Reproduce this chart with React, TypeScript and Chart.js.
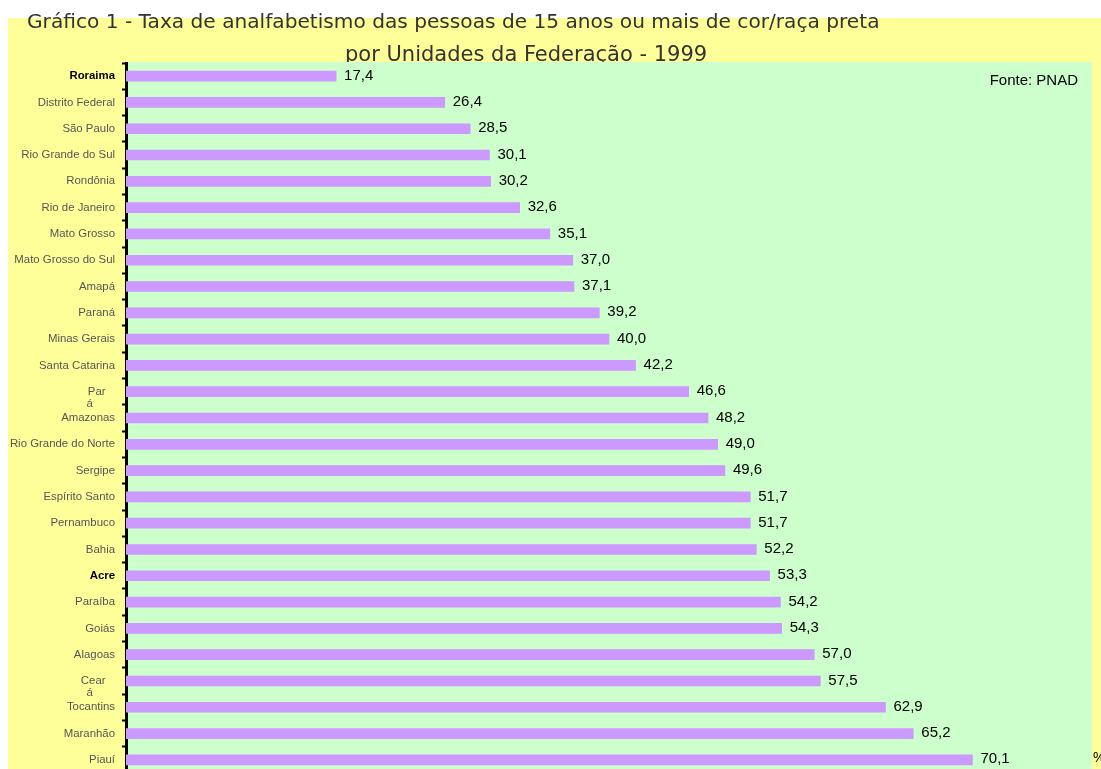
import React, { useEffect, useRef } from "react";
import { Chart, registerables } from "chart.js";

Chart.register(...registerables);

const TITLE_LINE_1 = "Gráfico 1 - Taxa de analfabetismo das pessoas de 15 anos ou mais de cor/raça preta";
const TITLE_LINE_2 = "por Unidades da Federação - 1999";
const SOURCE_TEXT = "Fonte: PNAD";
const UNIT_TEXT = "%";

const states: string[] = [
  "Roraima", "Distrito Federal", "São Paulo", "Rio Grande do Sul", "Rondônia",
  "Rio de Janeiro", "Mato Grosso", "Mato Grosso do Sul", "Amapá", "Paraná",
  "Minas Gerais", "Santa Catarina", "Pará", "Amazonas", "Rio Grande do Norte",
  "Sergipe", "Espírito Santo", "Pernambuco", "Bahia", "Acre", "Paraíba", "Goiás",
  "Alagoas", "Ceará", "Tocantins", "Maranhão", "Piauí",
];

const tickLabels: (string | string[])[] = [
  "Roraima", "Distrito Federal", "São Paulo", "Rio Grande do Sul", "Rondônia",
  "Rio de Janeiro", "Mato Grosso", "Mato Grosso do Sul", "Amapá", "Paraná",
  "Minas Gerais", "Santa Catarina", ["", "Par   ", "á       "], "Amazonas", "Rio Grande do Norte",
  "Sergipe", "Espírito Santo", "Pernambuco", "Bahia", "Acre", "Paraíba", "Goiás",
  "Alagoas", ["", "Cear   ", "á       "], "Tocantins", "Maranhão", "Piauí",
];

const illiteracyRates: number[] = [
  17.4, 26.4, 28.5, 30.1, 30.2, 32.6, 35.1, 37.0, 37.1, 39.2,
  40.0, 42.2, 46.6, 48.2, 49.0, 49.6, 51.7, 51.7, 52.2, 53.3,
  54.2, 54.3, 57.0, 57.5, 62.9, 65.2, 70.1,
];

const darkLabels: string[] = ["Roraima", "Acre"];

const fmt = (v: number) => v.toFixed(1).replace(".", ",");

const backgroundPlugin = {
  id: "bgTitle",
  beforeDraw(chart: any) {
    const { ctx, width, height, chartArea } = chart;
    ctx.save();
    ctx.fillStyle = "#FFFF99";
    ctx.fillRect(0, 10, width, height - 10);
    ctx.fillStyle = "#333333";
    ctx.textBaseline = "middle";
    ctx.textAlign = "left";
    let size = 17;
    ctx.font = `${size}px "DejaVu Sans"`;
    const w1 = ctx.measureText(TITLE_LINE_1).width;
    size = size * (853 / w1);
    ctx.font = `${size}px "DejaVu Sans"`;
    ctx.fillText(TITLE_LINE_1, 19, 15);
    const w2 = ctx.measureText(TITLE_LINE_2).width;
    ctx.font = `${size * (362 / w2)}px "DejaVu Sans"`;
    ctx.fillText(TITLE_LINE_2, 337, 48);
    ctx.fillStyle = "#CCFFCC";
    ctx.fillRect(chartArea.left, chartArea.top - 1, chartArea.right - chartArea.left, chartArea.bottom - chartArea.top + 1);
    ctx.restore();
  },
};

const labelsPlugin = {
  id: "valueLabels",
  afterDraw(chart: any) {
    const { ctx, chartArea } = chart;
    const meta = chart.getDatasetMeta(0);
    ctx.save();
    ctx.fillStyle = "#000";
    ctx.font = `15px "Liberation Sans", Arial, sans-serif`;
    ctx.textBaseline = "middle";
    ctx.textAlign = "left";
    meta.data.forEach((bar: any, i: number) => {
      ctx.fillText(fmt(illiteracyRates[i]), bar.x + 8, bar.y - 0.5);
    });
    ctx.textAlign = "right";
    ctx.fillText(SOURCE_TEXT, chartArea.right - 14, chartArea.top + 18);
    ctx.textAlign = "left";
    ctx.font = `14px "Liberation Sans", Arial, sans-serif`;
    ctx.fillText(UNIT_TEXT, chartArea.right + 1, meta.data[meta.data.length - 1].y - 2);
    ctx.restore();
  },
};

export default function App() {
  const canvasRef = useRef<HTMLCanvasElement | null>(null);

  useEffect(() => {
    document.body.style.overflow = "hidden";
    if (!canvasRef.current) return;
    const chart = new Chart(canvasRef.current, {
      type: "bar",
      data: {
        labels: tickLabels as any,
        datasets: [
          {
            label: "Taxa de analfabetismo",
            data: illiteracyRates,
            backgroundColor: "#CC99FF",
            borderWidth: 0,
            barThickness: 10,
          },
        ],
      },
      options: {
        indexAxis: "y",
        animation: false,
        responsive: false,
        devicePixelRatio: 1,
        layout: { padding: { left: 0, top: 55, right: 9, bottom: 15 } },
        plugins: {
          legend: { display: false },
          tooltip: { enabled: false },
          title: { display: false },
        },
        scales: {
          x: { display: false, min: 0, max: 80 },
          y: {
            type: "category",
            offset: true,
            grid: {
              display: true,
              offset: true,
              drawOnChartArea: false,
              drawTicks: true,
              tickLength: 4,
              tickWidth: 2,
              tickColor: "#000",
              color: "#000",
            },
            border: { display: true, color: "#000", width: 3 },
            ticks: {
              autoSkip: false,
              padding: 7,
              color: (c: any) => (darkLabels.includes(states[c.index]) ? "#000" : "#555555"),
              font: (c: any) => ({
                family: '"Liberation Sans", Arial, sans-serif',
                size: 11.4,
                lineHeight: 1.05,
                weight: darkLabels.includes(states[c.index]) ? "bold" : "normal",
              }),
            },
            afterFit: (scale: any) => {
              scale.width = 118;
            },
          },
        },
      },
      plugins: [backgroundPlugin, labelsPlugin],
    });
    return () => chart.destroy();
  }, []);

  return (
    <div style={{ position: "fixed", left: 8, top: 8, width: 1093, height: 761, overflow: "hidden" }}>
      <canvas ref={canvasRef} width={1093} height={780} style={{ display: "block", width: 1093, height: 780 }} />
    </div>
  );
}
